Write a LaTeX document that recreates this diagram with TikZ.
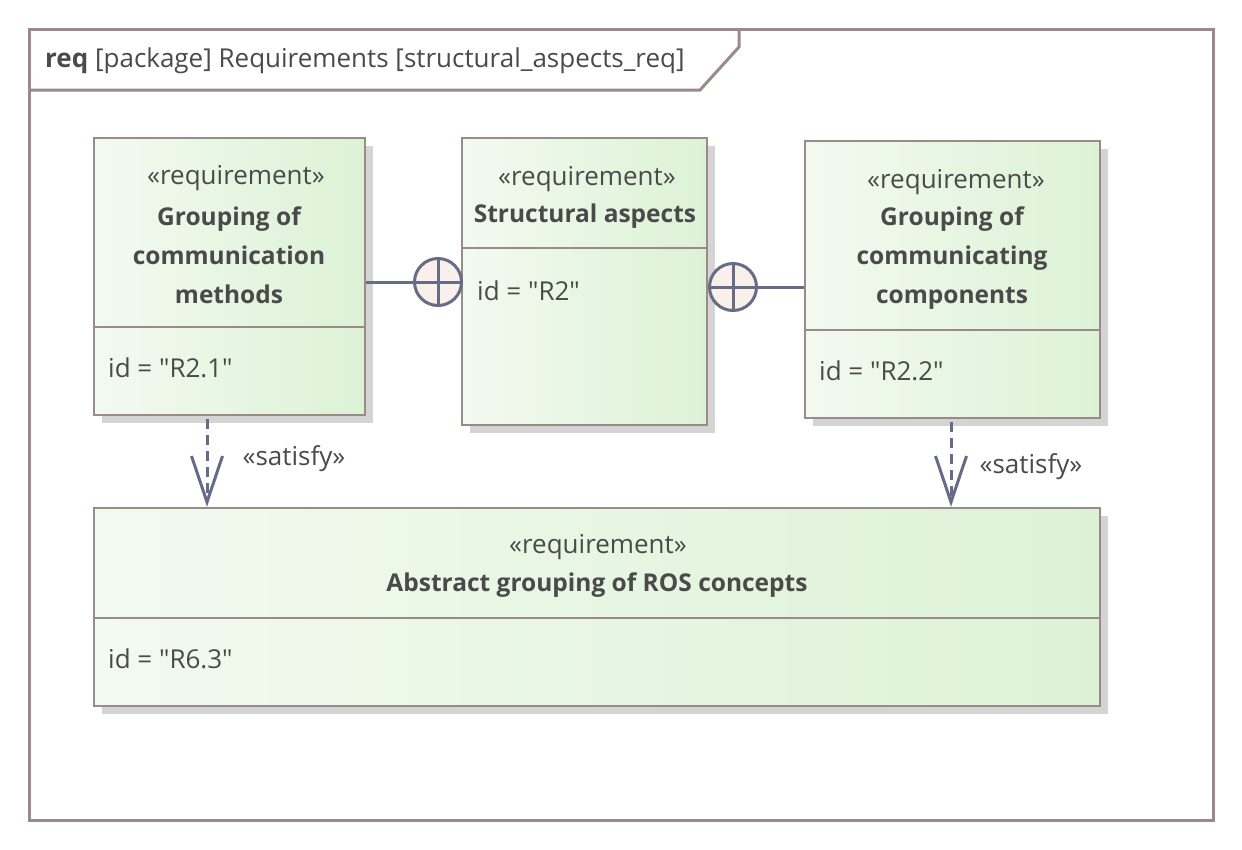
\documentclass[tikz,border=0pt]{standalone}
\usepackage{fontspec}
\setmainfont{Open Sans}
\usepackage{tikz}
\usepackage{xcolor}
\usetikzlibrary{arrows.meta,shadows}

\definecolor{framegray}{HTML}{9C8A88}
\definecolor{reqleft}{HTML}{F3FAF0}
\definecolor{reqright}{HTML}{DCF2D6}
\definecolor{shadegray}{HTML}{D4D4D4}
\definecolor{connblue}{HTML}{676C86}
\definecolor{circfill}{HTML}{FAF0EB}
\definecolor{txtgray}{HTML}{4A4A4A}

\newcommand{\qq}{\textquotedbl}

\tikzset{
	frame/.style={draw=framegray, line width=3pt},
	reqbox/.style={draw=framegray, line width=2.5pt, left color=reqleft, right color=reqright,
		drop shadow={shadow xshift=8pt, shadow yshift=-8pt, fill=shadegray, opacity=1}},
	divider/.style={draw=framegray, line width=2.5pt},
	txt/.style={text=txtgray, font=\fontsize{26}{39}\selectfont, inner sep=0pt, align=center},
	nametxt/.style={txt, font=\fontsize{24.5}{39}\selectfont\bfseries},
	idtxt/.style={txt, anchor=west},
	connline/.style={draw=connblue, line width=3pt},
	plusnode/.style={circle, draw=connblue, line width=3pt, fill=circfill, minimum size=47pt, inner sep=0pt,
		path picture={\draw[connline] (path picture bounding box.north) -- (path picture bounding box.south)
			(path picture bounding box.west) -- (path picture bounding box.east);}},
	satisfy/.style={connline, dash pattern=on 10pt off 6pt, -{Straight Barb[length=46pt, width=31pt]}},
}

\begin{document}
\begin{tikzpicture}[x=1pt, y=-1pt]
	\useasboundingbox (0,0) rectangle (1242,849);
	\fill[white] (0,0) rectangle (1242,849);
	% diagram frame
	\draw[frame] (29,29) rectangle (1213,820);
	\draw[frame] (29,90) -- (700,90) -- (739,47) -- (739,29);
	\node[txt, anchor=west] (title) at (45,61) {\textbf{req} [package] Requirements [structural\_aspects\_req]};

	% requirement boxes
	\node[reqbox, minimum width=271pt, minimum height=277pt] (methods) at (229.5,276.5) {};
	\node[reqbox, minimum width=245pt, minimum height=287pt] (structural) at (584.5,281.5) {};
	\node[reqbox, minimum width=295pt, minimum height=277pt] (components) at (952.5,279.5) {};
	\node[reqbox, minimum width=1006pt, minimum height=198pt] (abstract) at (597,607) {};
	\draw[divider] (94,327) -- (365,327);
	\draw[divider] (462,248) -- (707,248);
	\draw[divider] (805,330) -- (1100,330);
	\draw[divider] (94,618) -- (1100,618);

	\node[txt] (methodsStereo) at (236,178) {«requirement»};
	\node[nametxt] (methodsName) at (229,255) {Grouping of\\communication\\methods};
	\node[idtxt] (methodsId) at (108,368) {id = \qq R2.1\qq};

	\node[txt] (structStereo) at (587,179) {«requirement»};
	\node[nametxt] (structName) at (585,216) {Structural aspects};
	\node[idtxt] (structId) at (477,291) {id = \qq R2\qq};

	\node[txt] (compStereo) at (956,182) {«requirement»};
	\node[nametxt] (compName) at (952,258) {Grouping of\\communicating\\components};
	\node[idtxt] (compId) at (819,371) {id = \qq R2.2\qq};

	\node[txt] (absStereo) at (598,547) {«requirement»};
	\node[nametxt] (absName) at (597,585) {Abstract grouping of ROS concepts};
	\node[idtxt] (absId) at (108,659) {id = \qq R6.3\qq};

	% containment
	\node[plusnode] (plusLeft) at (438,282) {};
	\node[plusnode] (plusRight) at (733,287) {};
	\draw[connline] (methods.east |- plusLeft) -- (plusLeft.west);
	\draw[connline] (plusRight.east) -- (components.west |- plusRight);

	% satisfy
	\coordinate (satLeft) at (207,0);
	\coordinate (satRight) at (951,0);
	\draw[satisfy] (methods.south -| satLeft) ++(0,3) -- (abstract.north -| satLeft);
	\draw[satisfy] (components.south -| satRight) ++(0,3) -- (abstract.north -| satRight);
	\node[txt] (satLblLeft) at (294,459) {«satisfy»};
	\node[txt] (satLblRight) at (1031,467) {«satisfy»};
\end{tikzpicture}
\end{document}
